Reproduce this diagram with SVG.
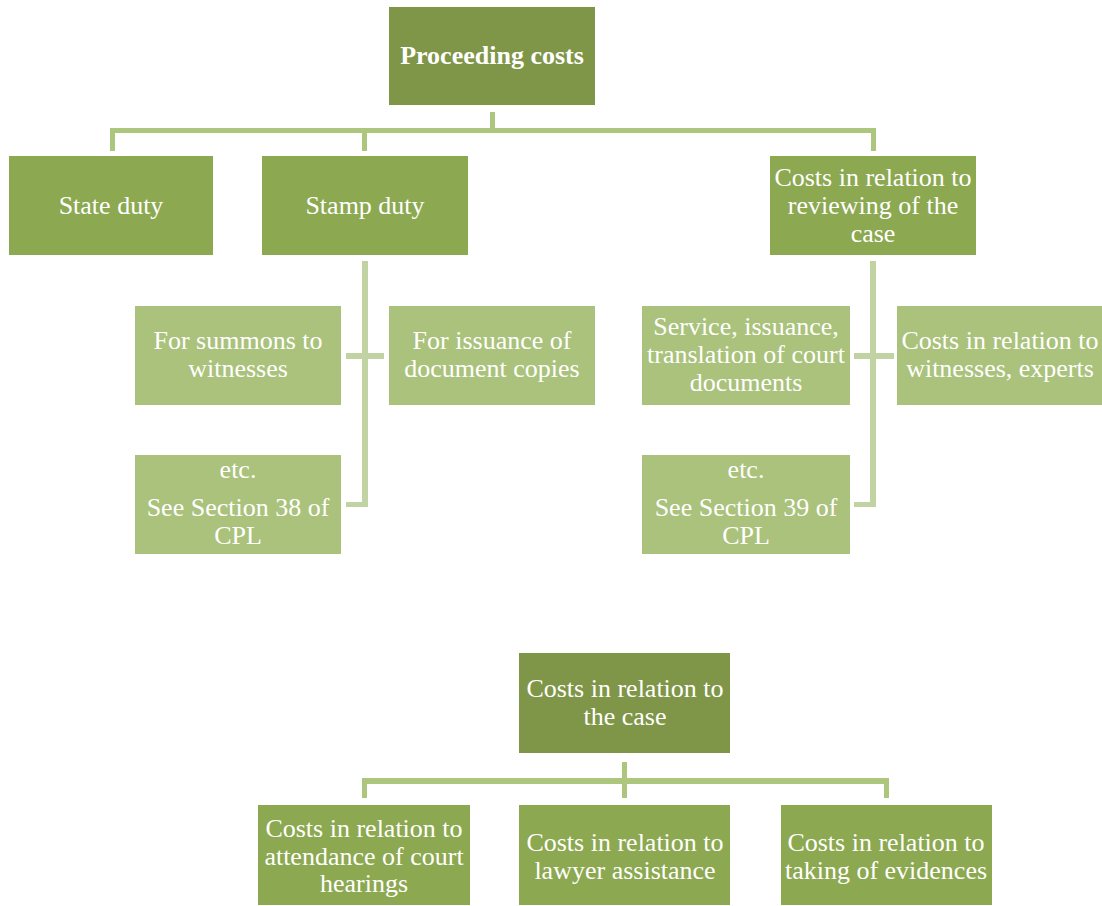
<svg xmlns="http://www.w3.org/2000/svg" width="1102" height="906" viewBox="0 0 1102 906">
  <style>
    .lvl0 { fill: #7f9547; }
    .lvl1 { fill: #8ca850; }
    .lvl2 { fill: #aac27b; }
    .bar { fill: #adc67e; }
    .sub { fill: #c1d3a3; }
    text { font-family: "Liberation Serif", "Times New Roman", serif; font-size: 26px; fill: #ffffff; text-anchor: middle; }
    .bold { font-weight: bold; }
  </style>
  <rect width="1102" height="906" fill="#ffffff"/>

  <!-- connectors -->
  <g id="connectors">
    <!-- Proceeding costs to first level -->
    <rect class="bar" x="490" y="112" width="5" height="18"/>
    <rect class="bar" x="110" y="128" width="766" height="5"/>
    <rect class="bar" x="110" y="128" width="5" height="23"/>
    <rect class="bar" x="362" y="128" width="5" height="23"/>
    <rect class="bar" x="871" y="128" width="5" height="23"/>
    <!-- Stamp duty branches -->
    <rect class="sub" x="362" y="261" width="6" height="246"/>
    <rect class="sub" x="346" y="353" width="38" height="6"/>
    <rect class="sub" x="346" y="502" width="22" height="5"/>
    <!-- Reviewing of the case branches -->
    <rect class="sub" x="870" y="261" width="6" height="246"/>
    <rect class="sub" x="854" y="353" width="40" height="6"/>
    <rect class="sub" x="854" y="502" width="22" height="5"/>
    <!-- Costs in relation to the case -->
    <rect class="bar" x="622" y="762" width="5" height="36"/>
    <rect class="bar" x="362" y="778" width="527" height="6"/>
    <rect class="bar" x="362" y="778" width="5" height="20"/>
    <rect class="bar" x="884" y="778" width="5" height="20"/>
  </g>

  <g id="proceeding-costs">
    <rect class="lvl0" x="389" y="7" width="206" height="98"/>
    <text class="bold" x="492" y="64">Proceeding costs</text>
  </g>

  <g id="state-duty">
    <rect class="lvl1" x="9" y="156" width="204" height="99"/>
    <text x="111" y="214">State duty</text>
  </g>

  <g id="stamp-duty">
    <rect class="lvl1" x="262" y="156" width="206" height="99"/>
    <text x="365" y="214">Stamp duty</text>
  </g>

  <g id="reviewing-costs">
    <rect class="lvl1" x="770" y="156" width="206" height="99"/>
    <text x="873" y="186">Costs in relation to</text>
    <text x="873" y="214">reviewing of the</text>
    <text x="873" y="242">case</text>
  </g>

  <g id="summons">
    <rect class="lvl2" x="135" y="306" width="206" height="99"/>
    <text x="238" y="349">For summons to</text>
    <text x="238" y="377">witnesses</text>
  </g>

  <g id="document-copies">
    <rect class="lvl2" x="389" y="306" width="206" height="99"/>
    <text x="492" y="349">For issuance of</text>
    <text x="492" y="377">document copies</text>
  </g>

  <g id="section-38">
    <rect class="lvl2" x="135" y="455" width="206" height="99"/>
    <text x="238" y="478">etc.</text>
    <text x="238" y="516">See Section 38 of</text>
    <text x="238" y="544">CPL</text>
  </g>

  <g id="court-documents">
    <rect class="lvl2" x="642" y="306" width="208" height="99"/>
    <text x="746" y="335">Service, issuance,</text>
    <text x="746" y="363">translation of court</text>
    <text x="746" y="391">documents</text>
  </g>

  <g id="witnesses-experts">
    <rect class="lvl2" x="897" y="306" width="207" height="99"/>
    <text x="1000" y="349">Costs in relation to</text>
    <text x="1000" y="377">witnesses, experts</text>
  </g>

  <g id="section-39">
    <rect class="lvl2" x="642" y="455" width="208" height="99"/>
    <text x="746" y="478">etc.</text>
    <text x="746" y="516">See Section 39 of</text>
    <text x="746" y="544">CPL</text>
  </g>

  <g id="case-costs">
    <rect class="lvl0" x="519" y="653" width="211" height="100"/>
    <text x="625" y="697">Costs in relation to</text>
    <text x="625" y="725">the case</text>
  </g>

  <g id="court-hearings">
    <rect class="lvl1" x="258" y="805" width="212" height="100"/>
    <text x="364" y="837">Costs in relation to</text>
    <text x="364" y="865">attendance of court</text>
    <text x="364" y="892">hearings</text>
  </g>

  <g id="lawyer-assistance">
    <rect class="lvl1" x="519" y="805" width="211" height="100"/>
    <text x="625" y="851">Costs in relation to</text>
    <text x="625" y="879">lawyer assistance</text>
  </g>

  <g id="taking-evidences">
    <rect class="lvl1" x="781" y="805" width="211" height="100"/>
    <text x="886" y="851">Costs in relation to</text>
    <text x="886" y="879">taking of evidences</text>
  </g>
</svg>
